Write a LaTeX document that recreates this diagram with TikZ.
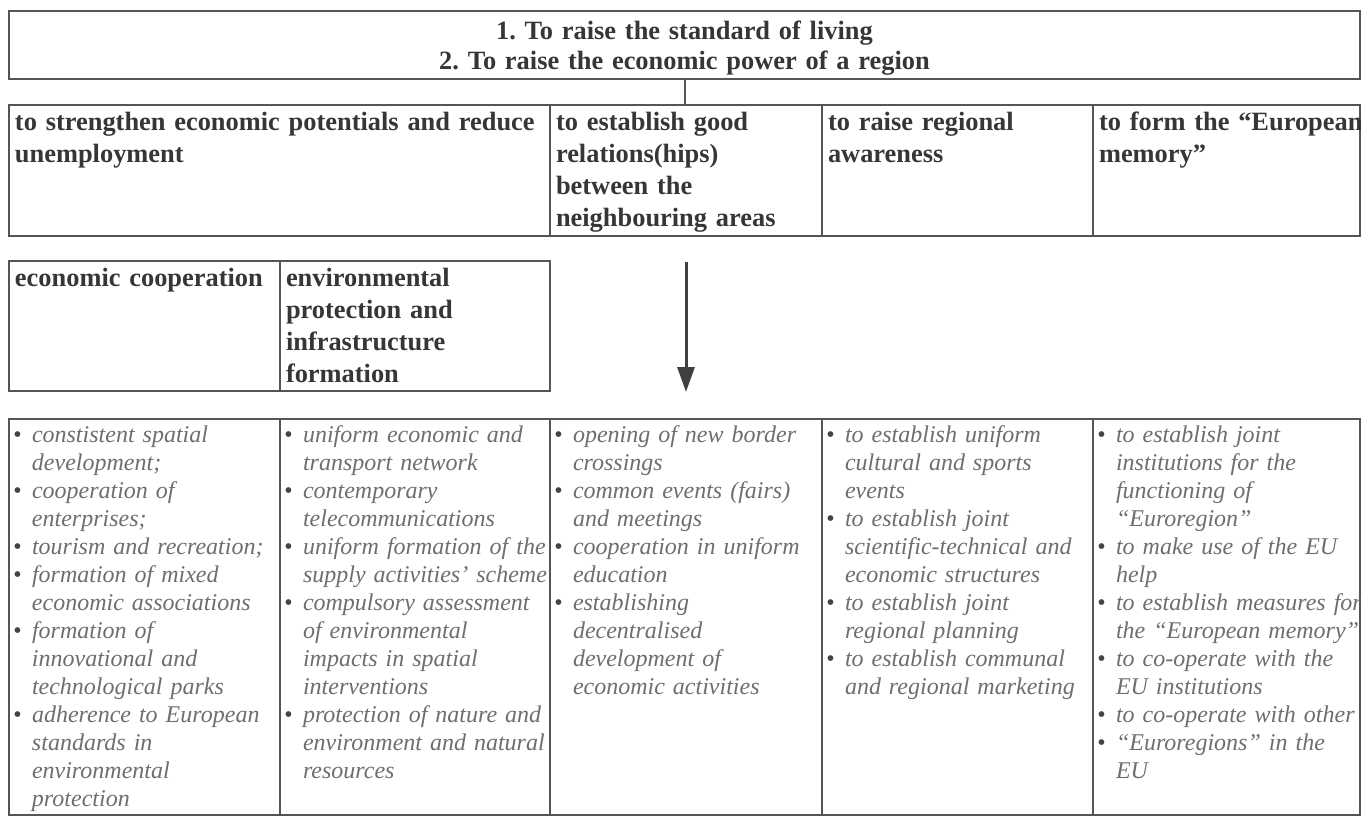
\documentclass[tikz,border=0pt]{standalone}
\usepackage{fontspec}
\setmainfont{Liberation Serif}
\usepackage{xcolor}
\usetikzlibrary{arrows.meta, positioning}
\definecolor{Scan_Line}{HTML}{555555}
\definecolor{Scan_Ink}{HTML}{363636}
\definecolor{Scan_Soft}{HTML}{6E6E6E}
\definecolor{Scan_Dot}{HTML}{444444}
\definecolor{Scan_Arrow}{HTML}{404040}
\newcommand{\bitem}[1]{\hangindent=9.5pt\hangafter=1\noindent\makebox[9.5pt][l]{\textcolor{Scan_Dot}{\textbullet}}#1\par}

\begin{document}
\frenchspacing
\begin{tikzpicture}[x=0.5pt, y=-0.5pt,
    frame/.style={draw=Scan_Line, line width=1pt, outer sep=0pt, inner sep=3pt, anchor=north west},
    nobreak/.style={execute at begin node={\rightskip=0pt plus 1fil minus 25pt\relax\hyphenpenalty=10000\exhyphenpenalty=10000\relax}},
    headfont/.style={font=\fontsize{13.2}{15}\selectfont\bfseries, text=Scan_Ink},
    headcell/.style 2 args={frame, headfont, font=\fontsize{13.2}{16}\selectfont\bfseries, align=left, nobreak,
        text width=#1-6pt, text height=9.5pt, text depth=#2},
    itemcell/.style={frame, inner xsep=2pt, font=\fontsize{12}{14}\selectfont\itshape, text=Scan_Soft, align=left, nobreak,
        text width=#1-4pt, text height=8.8pt, text depth=183.2pt},
    link/.style={draw=Scan_Line, line width=1pt},
    flowarrow/.style={draw=Scan_Arrow, line width=1.5pt, -{Triangle[length=12.5pt, width=8.5pt]}, shorten <=13pt, shorten >=13.5pt}]
    \useasboundingbox (0,0) rectangle (1361,816);

    % Main goals
    \node[frame, headfont, align=center, text width=675.5pt-6pt, text height=11.25pt, text depth=16.75pt] (goal) at (9,11)
        {1. To raise the standard of living\\2. To raise the economic power of a region};

    % Objectives
    \node[headcell={270.5pt}{50pt}] (strg) at (9,105) {to strengthen economic potentials and reduce\\unemployment};
    \node[headcell={136pt}{50pt}] (rel) at (strg.north east) {to establish good\\relations(hips)\\between the\\neighbouring areas};
    \node[headcell={135.5pt}{50pt}] (awr) at (rel.north east) {to raise regional\\awareness};
    \node[headcell={133.5pt}{50pt}] (mem) at (awr.north east) {to form the “European\\memory”};
    \draw[link] (goal.south) -- (goal.south |- rel.north);

    % Fields of cooperation
    \node[headcell={135.5pt}{49.5pt}] (eco) at (9,261) {economic cooperation};
    \node[headcell={135pt}{49.5pt}] (env) at (eco.north east) {environmental\\protection and\\infrastructure\\formation};

    % Measures
    \node[itemcell=135.5pt] (mA) at (9,419) {%
        \bitem{constistent spatial\newline development;}
        \bitem{cooperation of\newline enterprises;}
        \bitem{tourism and recreation;}
        \bitem{formation of mixed\newline economic associations}
        \bitem{formation of\newline innovational and\newline technological parks}
        \bitem{adherence to European\newline standards in\newline environmental\newline protection}};
    \node[itemcell=135pt] (mB) at (mA.north east) {%
        \bitem{uniform economic and\newline transport network}
        \bitem{contemporary\newline telecommunications}
        \bitem{uniform formation of the\newline supply activities’ scheme}
        \bitem{compulsory assessment\newline of environmental\newline impacts in spatial\newline interventions}
        \bitem{protection of nature and\newline environment and natural\newline resources}};
    \node[itemcell=136pt] (mC) at (mB.north east) {%
        \bitem{opening of new border\newline crossings}
        \bitem{common events (fairs)\newline and meetings}
        \bitem{cooperation in uniform\newline education}
        \bitem{establishing\newline decentralised\newline development of\newline economic activities}};
    \node[itemcell=135.5pt] (mD) at (mC.north east) {%
        \bitem{to establish uniform\newline cultural and sports\newline events}
        \bitem{to establish joint\newline scientific-technical and\newline economic structures}
        \bitem{to establish joint\newline regional planning}
        \bitem{to establish communal\newline and regional marketing}};
    \node[itemcell=133.5pt] (mE) at (mD.north east) {%
        \bitem{to establish joint\newline institutions for the\newline functioning of\newline “Euroregion”}
        \bitem{to make use of the EU\newline help}
        \bitem{to establish measures for\newline the “European memory”}
        \bitem{to co-operate with the\newline EU institutions}
        \bitem{to co-operate with other}
        \bitem{“Euroregions” in the\newline EU}};

    \draw[flowarrow] (rel.south) -- (mC.north);
\end{tikzpicture}
\end{document}
